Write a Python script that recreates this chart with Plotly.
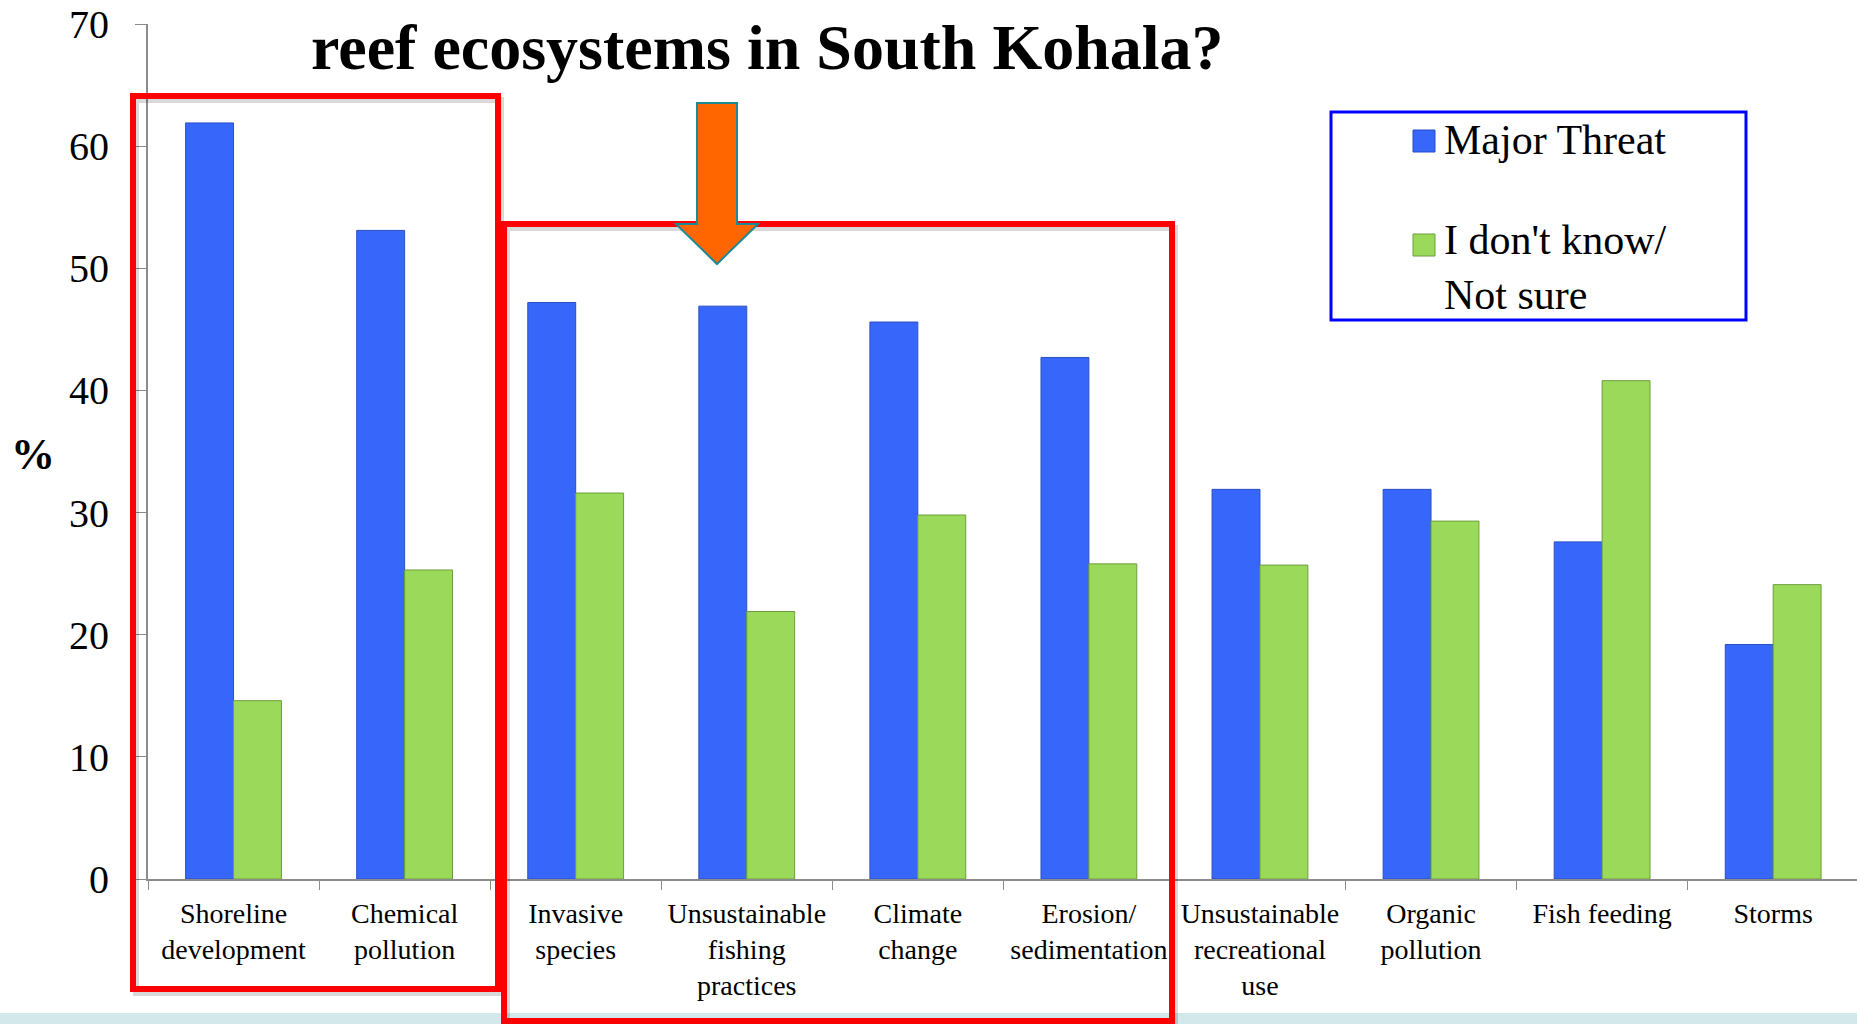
import plotly.graph_objects as go

categories = ["Shoreline<br>development", "Chemical<br>pollution", "Invasive<br>species",
              "Unsustainable<br>fishing<br>practices", "Climate<br>change", "Erosion/<br>sedimentation",
              "Unsustainable<br>recreational<br>use", "Organic<br>pollution", "Fish feeding", "Storms"]
major_threat = [61.9, 53.1, 47.2, 46.9, 45.6, 42.7, 31.9, 31.9, 27.6, 19.2]
not_sure = [14.6, 25.3, 31.6, 21.9, 29.8, 25.8, 25.7, 29.3, 40.8, 24.1]
y_ticks = [0, 10, 20, 30, 40, 50, 60, 70]

W, H = 1857, 1024
L, R, T, B = 148, 0, 24, 145
PW, PH = W - L - R, H - T - B

def px(x):
    return (x - L) / PW

def py(y):
    return (H - B - y) / PH

FONT = "Liberation Serif, Times New Roman, serif"

fig = go.Figure()
fig.add_trace(go.Bar(x=categories, y=major_threat, name="Major Threat",
                     marker=dict(color="#3767FA", line=dict(color="#2A4FC0", width=1))))
fig.add_trace(go.Bar(x=categories, y=not_sure, name="I don't know/<br>Not sure",
                     marker=dict(color="#9AD95A", line=dict(color="#6E9E3C", width=1))))

shapes = []
# bottom slide band
shapes.append(dict(type="rect", xref="paper", yref="paper", x0=px(0), x1=px(W), y0=py(1013), y1=py(H),
                   fillcolor="#D2E8EB", line=dict(width=0), layer="below"))
# red boxes with shadow
for (x0, y0, x1, y1) in [(133, 96, 498, 989), (504, 224, 1172, 1021)]:
    shapes.append(dict(type="rect", xref="paper", yref="paper",
                       x0=px(x0 + 3), x1=px(x1 + 3), y0=py(y0 + 4), y1=py(y1 + 4),
                       line=dict(color="rgba(0,0,0,0.15)", width=6)))
    shapes.append(dict(type="rect", xref="paper", yref="paper",
                       x0=px(x0), x1=px(x1), y0=py(y0), y1=py(y1),
                       line=dict(color="#FF0000", width=6)))
# arrow
pts = [(697, 103), (737, 103), (737, 224), (758, 224), (717, 264), (676, 224), (697, 224)]
path = "M " + " L ".join(f"{px(x):.5f},{py(y):.5f}" for x, y in pts) + " Z"
shapes.append(dict(type="path", xref="paper", yref="paper", path=path,
                   fillcolor="#FF6600", line=dict(color="#1B8A96", width=2)))
# legend box
shapes.append(dict(type="rect", xref="paper", yref="paper", x0=px(1331), x1=px(1746), y0=py(112), y1=py(320),
                   fillcolor="white", line=dict(color="#0000FF", width=3)))
shapes.append(dict(type="rect", xref="paper", yref="paper", x0=px(1413), x1=px(1435), y0=py(130), y1=py(152),
                   fillcolor="#3767FA", line=dict(color="#2A4FC0", width=1)))
shapes.append(dict(type="rect", xref="paper", yref="paper", x0=px(1413), x1=px(1435), y0=py(234), y1=py(256),
                   fillcolor="#9AD95A", line=dict(color="#6E9E3C", width=1)))

annotations = [
    dict(text="<b>reef ecosystems in South Kohala?</b>", xref="paper", yref="paper",
         x=px(767), y=py(47), xanchor="center", yanchor="middle", showarrow=False,
         font=dict(family=FONT, size=64, color="black")),
    dict(text="<b>%</b>", xref="paper", yref="paper", x=px(33), y=py(454),
         xanchor="center", yanchor="middle", showarrow=False,
         font=dict(family=FONT, size=44, color="black")),
    dict(text="Major Threat", xref="paper", yref="paper", x=px(1442), y=py(140),
         xanchor="left", yanchor="middle", showarrow=False,
         font=dict(family=FONT, size=42, color="black")),
    dict(text="I don't know/<br>Not sure", xref="paper", yref="paper", x=px(1442), y=py(267),
         xanchor="left", yanchor="middle", align="left", showarrow=False,
         font=dict(family=FONT, size=42, color="black")),
]

fig.update_layout(
    width=W, height=H,
    margin=dict(l=L, r=R, t=T, b=B, pad=0),
    paper_bgcolor="white", plot_bgcolor="white",
    barmode="group", bargap=0.44, bargroupgap=0,
    showlegend=False,
    font=dict(family=FONT, color="black"),
    shapes=shapes, annotations=annotations,
    xaxis=dict(range=[-0.5, 9.49], showline=True, linecolor="#8C8C8C", linewidth=2,
               ticks="outside", tickson="boundaries", ticklen=9, tickcolor="#8C8C8C", tickwidth=1,
               tickfont=dict(family=FONT, size=28, color="black"), ticklabelstandoff=8,
               showgrid=False, zeroline=False, fixedrange=True),
    yaxis=dict(range=[0, 70], tickvals=y_ticks, showline=True, linecolor="#8C8C8C", linewidth=2,
               ticks="outside", ticklen=11, tickcolor="#8C8C8C", tickwidth=1,
               tickfont=dict(family=FONT, size=40, color="black"), ticklabelstandoff=18,
               showgrid=False, zeroline=False, fixedrange=True),
)

fig.write_html("out.html", post_script="document.body.style.margin='0';document.body.style.overflow='hidden';",
               config={"displayModeBar": False})
